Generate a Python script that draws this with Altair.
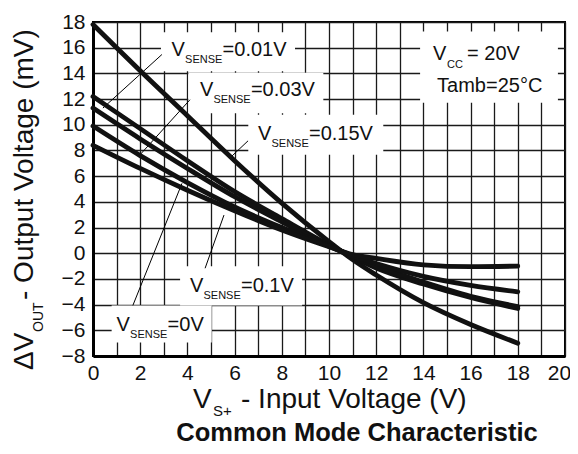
import altair as alt
import pandas as pd

# ---------------- data ----------------
vs_plus = [0, 2, 4, 6, 8, 10, 11, 12, 14, 16, 18]          # V
dv_015 = [17.8, 14.2, 10.7, 7.2, 3.9, 0.9, -0.5, -1.7, -3.85, -5.55, -7.0]   # mV
dv_010 = [12.2, 9.7, 7.2, 4.8, 2.7, 0.65, -0.3, -1.15, -2.4, -3.45, -4.3]
dv_001 = [11.3, 8.9, 6.6, 4.4, 2.45, 0.6, -0.25, -1.0, -2.25, -3.35, -4.15]
dv_003 = [9.9, 7.6, 5.5, 3.6, 2.0, 0.55, -0.2, -0.8, -1.8, -2.5, -3.0]
dv_000 = [8.4, 6.6, 4.9, 3.3, 1.8, 0.5, -0.1, -0.4, -0.9, -1.05, -1.0]

series_names = ["0.15V", "0.1V", "0.01V", "0.03V", "0V"]
series_values = [dv_015, dv_010, dv_001, dv_003, dv_000]

# label boxes (data units)
box_x1 = [2.88, 4.04, 6.58, 13.86, 3.69, 0.79]
box_x2 = [8.56, 9.76, 12.3, 19.7, 8.86, 5.03]
box_y1 = [17.2, 14.04, 10.78, 17.27, -1.02, -4.06]
box_y2 = [14.16, 10.9, 7.66, 11.72, -4.06, -6.95]

# VSENSE labels: anchor = baseline-left of the "V" (data units)
label_vals = ["=0.01V", "=0.03V", "=0.15V", "=0.1V", "=0V"]
label_x = [3.33, 4.53, 6.99, 4.11, 1.0]
label_y = [15.39, 12.21, 8.83, -3.02, -6.02]

# leader lines (data units)
lead_x1 = [2.92, 4.11, 6.57, 4.75, 1.69]
lead_y1 = [15.47, 11.95, 8.75, -1.17, -4.06]
lead_x2 = [0.42, 1.99, 5.85, 5.55, 3.77]
lead_y2 = [11.3, 7.66, 7.5, 2.97, 5.44]

cond_x = [14.41, 14.58]
cond_y = [15.08, 12.52]

x_ticks = list(range(0, 21))
y_ticks = list(range(-8, 19, 2))

FONT = "Liberation Sans"

# ---------------- tables ----------------
rows = []
for name, vals in zip(series_names, series_values):
    for xv, yv in zip(vs_plus, vals):
        rows.append({"vsense": name, "x": xv, "y": yv})
curve_df = pd.DataFrame(rows)
box_df = pd.DataFrame({"x": box_x1, "x2": box_x2, "y": box_y1, "y2": box_y2})
lab_df = pd.DataFrame({"x": label_x, "y": label_y, "rest": label_vals})
lead_df = pd.DataFrame({"x": lead_x1, "y": lead_y1, "x2": lead_x2, "y2": lead_y2})
cond_df = pd.DataFrame({"x": cond_x, "y": cond_y})

xscale = alt.Scale(domain=[0, 20], nice=False, zero=False)
yscale = alt.Scale(domain=[-8, 18], nice=False, zero=False)
xaxis = alt.Axis(values=x_ticks, labelExpr="datum.value % 2 == 0 ? datum.label : ''",
                 grid=True, ticks=False, title=None, labelFontSize=21, labelFont=FONT,
                 labelColor="#111", labelPadding=6, domainColor="black", domainWidth=3,
                 gridColor="#1a1a1a", gridWidth=1.3, labelFlush=False,
                 labelOffset={"condition": {"test": "datum.value == 20", "value": -6},
                              "value": 0})
yaxis = alt.Axis(values=y_ticks, grid=True, ticks=False, title=None, labelFontSize=21,
                 labelFont=FONT, labelColor="#111", labelPadding=8, domainColor="black",
                 domainWidth=3, gridColor="#1a1a1a", gridWidth=1.3, labelFlush=False)

X = lambda f="x": alt.X(f"{f}:Q", scale=xscale, axis=xaxis)
Y = lambda f="y": alt.Y(f"{f}:Q", scale=yscale, axis=yaxis)

boxes = alt.Chart(box_df).mark_rect(color="white").encode(
    x=X(), x2="x2:Q", y=Y(), y2="y2:Q")

leaders = alt.Chart(lead_df).mark_rule(color="black", strokeWidth=1).encode(
    x=X(), x2="x2:Q", y=Y(), y2="y2:Q")

lines = alt.Chart(curve_df).mark_line(color="#111", strokeWidth=4.8, interpolate="monotone",
                                      strokeCap="round").encode(
    x=X(), y=Y(), detail="vsense:N")

txt = dict(font=FONT, color="#111", align="left", baseline="alphabetic")
lab_v = alt.Chart(lab_df).mark_text(text="V", fontSize=20, **txt).encode(x=X(), y=Y())
lab_sub = alt.Chart(lab_df).mark_text(text="SENSE", fontSize=11, dx=13.5, dy=7, **txt).encode(
    x=X(), y=Y())
lab_rest = alt.Chart(lab_df).mark_text(fontSize=20, dx=51, **txt).encode(
    x=X(), y=Y(), text="rest:N")

cond1 = alt.Chart(cond_df.iloc[[0]]).mark_text(text="V", fontSize=20, **txt).encode(x=X(), y=Y())
cond1s = alt.Chart(cond_df.iloc[[0]]).mark_text(text="CC", fontSize=11, dx=14, dy=8, **txt).encode(
    x=X(), y=Y())
cond1r = alt.Chart(cond_df.iloc[[0]]).mark_text(text="= 20V", fontSize=20, dx=34, **txt).encode(
    x=X(), y=Y())
cond2 = alt.Chart(cond_df.iloc[[1]]).mark_text(text="Tamb=25°C", fontSize=20, **txt).encode(
    x=X(), y=Y())


def label(text, x, y, size, angle=0, bold=False, align="left"):
    return alt.Chart(pd.DataFrame({"t": [text]})).mark_text(
        font=FONT, fontSize=size, angle=angle, align=align, baseline="alphabetic",
        color="#111", fontWeight="bold" if bold else "normal").encode(
        text="t:N", x=alt.value(x), y=alt.value(y))


titles = [
    label("\u0394V", -60, 348, 28, angle=270),
    label("OUT", -50, 310, 14, angle=270),
    label("- Output Voltage (mV)", -60, 278, 28, angle=270),
    label("V", 100, 386, 28),
    label("S+", 120, 394, 15),
    label("- Input Voltage (V)", 148, 386, 28),
    label("Common Mode Characteristic", 264, 419, 25.5, bold=True, align="center"),
]

chart = alt.layer(boxes, leaders, lines, lab_v, lab_sub, lab_rest,
                  cond1, cond1s, cond1r, cond2, *titles).properties(
    width=472, height=334,
    autosize=alt.AutoSizeParams(type="none"),
    padding={"left": 85, "top": 14, "right": 5, "bottom": 90},
    background="white",
).configure_view(stroke="black", strokeWidth=2)

chart.save("out.html", embed_options={"renderer": "svg", "actions": False})
